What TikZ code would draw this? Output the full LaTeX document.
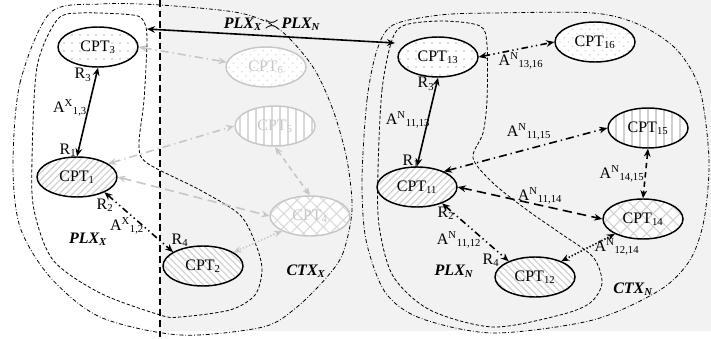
\documentclass[tikz,border=0pt]{standalone}
\usepackage{fontspec}
\setmainfont{Liberation Serif}
\usetikzlibrary{shapes.geometric,patterns,patterns.meta,arrows.meta}

\newlength{\du}
\setlength{\du}{0.75pt}

\definecolor{panelcolor}{rgb}{0.950000, 0.950000, 0.950000}
\definecolor{fadecolor}{rgb}{0.780000, 0.780000, 0.780000}
\definecolor{hatchcolor}{rgb}{0.820000, 0.820000, 0.820000}
\definecolor{paledcolor}{rgb}{0.850000, 0.850000, 0.850000}

\tikzset{
  cpt/.style={ellipse, draw, line width=1.1pt, minimum width=80\du, minimum height=40\du,
    inner sep=0pt, preaction={fill=white}, font=\fontsize{12}{14}\selectfont},
  faded/.style={draw=fadecolor, text=fadecolor},
  plxline/.style={line width=0.6pt, dash pattern=on 2.5pt off 1.5pt},
  ctxline/.style={line width=0.6pt, dash pattern=on 3pt off 1.5pt on 0.6pt off 1.5pt},
  link/.style={line width=1.2pt, {Stealth[length=6pt,width=5pt]}-{Stealth[length=6pt,width=5pt]}},
  fadedlink/.style={link, draw=fadecolor},
  dashdotdot/.style={dash pattern=on 5pt off 2.5pt on 1pt off 2.5pt on 1pt off 2.5pt},
  lbl/.style={font=\fontsize{12}{14}\selectfont, inner sep=0pt},
  area/.style={font=\fontsize{12}{14}\selectfont\bfseries\itshape, inner sep=0pt},
  dotfill/.style={pattern={Dots[distance=6pt,radius=0.8pt]}, pattern color=#1},
  slashfill/.style={pattern={Lines[angle=45,distance=3.5pt,line width=0.9pt]}, pattern color=#1},
  backfill/.style={pattern={Lines[angle=-45,distance=3.5pt,line width=0.9pt]}, pattern color=#1},
  vlinefill/.style={pattern={Lines[angle=90,distance=6pt,line width=1.5pt]}, pattern color=#1},
  crossfill/.style={pattern={Hatch[angle=45,distance=7pt,line width=0.8pt]}, pattern color=#1},
  chevfill/.style={pattern={Dots[distance=4.5pt,radius=0.7pt,angle=45]}, pattern color=#1},
}

\begin{document}
\begin{tikzpicture}
\pgftransformxscale{1.000000}
\pgftransformyscale{-1.000000}
\useasboundingbox (0\du,0\du) rectangle (711\du,339\du);
% panel
\fill[panelcolor] (160\du,0\du) rectangle (711\du,331\du);
\draw[line width=1.1pt, dash pattern=on 5pt off 3pt] (160\du,0\du) -- (160\du,339\du);
% contexts and plexes
\draw[ctxline] plot[smooth cycle] coordinates {(13\du,165\du) (20\du,83\du) (50\du,13\du) (100\du,4\du) (160\du,5\du) (240\du,13\du) (280\du,30\du) (313\du,67\du) (333\du,110\du) (347\du,160\du) (352\du,210\du) (343\du,253\du) (327\du,277\du) (297\du,307\du) (263\du,327\du) (180\du,335\du) (100\du,317\du) (50\du,277\du) (20\du,227\du)};
\draw[plxline] plot[smooth cycle] coordinates {(32\du,160\du) (37\du,67\du) (57\du,20\du) (80\du,13\du) (133\du,15\du) (144\du,22\du) (147\du,40\du) (144\du,100\du) (139\du,145\du) (147\du,163\du) (200\du,190\du) (240\du,215\du) (256\du,245\du) (262\du,270\du) (255\du,295\du) (230\du,310\du) (180\du,317\du) (160\du,315\du) (100\du,293\du) (53\du,260\du) (34\du,210\du)};
\draw[ctxline] plot[smooth cycle] coordinates {(362\du,180\du) (367\du,100\du) (377\du,50\du) (393\du,25\du) (440\du,15\du) (493\du,13\du) (593\du,13\du) (640\du,25\du) (677\du,50\du) (700\du,90\du) (709\du,160\du) (704\du,220\du) (690\du,260\du) (660\du,290\du) (593\du,320\du) (493\du,333\du) (420\du,318\du) (385\du,292\du) (366\du,240\du)};
\draw[plxline] plot[smooth cycle] coordinates {(378\du,170\du) (382\du,90\du) (392\du,40\du) (405\du,25\du) (443\du,21\du) (480\du,26\du) (487\du,45\du) (487\du,100\du) (483\du,133\du) (473\du,158\du) (493\du,183\du) (527\du,210\du) (560\du,233\du) (593\du,257\du) (602\du,283\du) (590\du,303\du) (560\du,315\du) (493\du,327\du) (430\du,310\du) (393\du,276\du) (379\du,225\du)};
% components
\node[cpt, dotfill=hatchcolor] (cpt3) at (98\du,47\du) {CPT\textsubscript{3}};
\node[cpt, slashfill=hatchcolor] (cpt1) at (77\du,177\du) {CPT\textsubscript{1}};
\node[cpt, backfill=hatchcolor] (cpt2) at (203\du,266\du) {CPT\textsubscript{2}};
\node[cpt, faded, chevfill=paledcolor] (cpt6) at (266\du,67\du) {CPT\textsubscript{6}};
\node[cpt, faded, vlinefill=paledcolor] (cpt5) at (275\du,126\du) {CPT\textsubscript{5}};
\node[cpt, faded, crossfill=paledcolor] (cpt4) at (310\du,216\du) {CPT\textsubscript{4}};
\node[cpt, dotfill=hatchcolor] (cpt13) at (438\du,57\du) {CPT\textsubscript{13}};
\node[cpt, chevfill=hatchcolor] (cpt16) at (595\du,42\du) {CPT\textsubscript{16}};
\node[cpt, vlinefill=hatchcolor] (cpt15) at (648\du,128\du) {CPT\textsubscript{15}};
\node[cpt, slashfill=hatchcolor] (cpt11) at (417\du,187\du) {CPT\textsubscript{11}};
\node[cpt, crossfill=hatchcolor] (cpt14) at (643\du,219\du) {CPT\textsubscript{14}};
\node[cpt, backfill=hatchcolor] (cpt12) at (535\du,277\du) {CPT\textsubscript{12}};
% faded links
\draw[fadedlink, dash pattern=on 6pt off 3pt on 1pt off 3pt] (cpt3.east) -- (cpt6.173);
\draw[fadedlink, dash pattern=on 6pt off 3pt on 1pt off 3pt] (cpt1.23) -- (cpt5.west);
\draw[fadedlink, dash pattern=on 7pt off 4pt] (cpt1.east) -- (cpt4.west);
\draw[fadedlink, dash pattern=on 4pt off 3pt] (cpt5.south) -- (cpt4.north);
\draw[fadedlink, dash pattern=on 1pt off 1.5pt] (cpt4.208) -- (cpt2.24);
% links
\coordinate (plxxend) at (147\du,29\du);
\coordinate (plxnend) at (395\du,43\du);
\draw[link] (plxxend) -- (plxnend);
\draw[link] (cpt3.south) -- (cpt1.north);
\draw[link, dashdotdot] (cpt1.-29) -- (cpt2.155);
\draw[link] (cpt13.south) -- (cpt11.north);
\draw[link, dashdotdot] (cpt13.east) -- (cpt16.west);
\draw[link, dash pattern=on 6pt off 3pt on 1pt off 3pt] (cpt11.30) -- (cpt15.west);
\draw[link, dash pattern=on 7pt off 4pt] (cpt11.east) -- (cpt14.west);
\draw[link, dash pattern=on 4pt off 3pt] (cpt15.south) -- (cpt14.north);
\draw[link, dashdotdot] (cpt11.-33) -- (cpt12.149);
\draw[link, dash pattern=on 1pt off 1.5pt] (cpt12.31) -- (cpt14.208);
% roles and associations
\node[lbl] (r3x) at (83\du,75\du) {R\textsubscript{3}};
\node[lbl] (r1x) at (68\du,150\du) {R\textsubscript{1}};
\node[lbl] (r2x) at (105\du,205\du) {R\textsubscript{2}};
\node[lbl] (r4x) at (180\du,240\du) {R\textsubscript{4}};
\node[lbl] (a13x) at (70\du,108\du) {A\textsuperscript{X}\textsubscript{1,3}};
\node[lbl] (a12x) at (127\du,226\du) {A\textsuperscript{X}\textsubscript{1,2}};
\node[lbl] (r3n) at (426\du,84\du) {R\textsubscript{3}};
\node[lbl] (r1n) at (411\du,161\du) {R\textsubscript{1}};
\node[lbl] (r2n) at (446\du,213\du) {R\textsubscript{2}};
\node[lbl] (r4n) at (491\du,260\du) {R\textsubscript{4}};
\node[lbl] (a1316n) at (521\du,61\du) {A\textsuperscript{N}\textsubscript{13,16}};
\node[lbl] (a1113n) at (408\du,120\du) {A\textsuperscript{N}\textsubscript{11,13}};
\node[lbl] (a1115n) at (529\du,132\du) {A\textsuperscript{N}\textsubscript{11,15}};
\node[lbl] (a1415n) at (622\du,174\du) {A\textsuperscript{N}\textsubscript{14,15}};
\node[lbl] (a1114n) at (540\du,196\du) {A\textsuperscript{N}\textsubscript{11,14}};
\node[lbl] (a1112n) at (459\du,240\du) {A\textsuperscript{N}\textsubscript{11,12}};
\node[lbl] (a1214n) at (617\du,247\du) {A\textsuperscript{N}\textsubscript{12,14}};
% area names
\node[area] (plxxname) at (88\du,239\du) {PLX\textsubscript{X}};
\node[area] (ctxxname) at (306\du,271\du) {CTX\textsubscript{X}};
\node[area] (plxnname) at (454\du,271\du) {PLX\textsubscript{N}};
\node[area] (ctxnname) at (633\du,289\du) {CTX\textsubscript{N}};
\node[area] (matchname) at (272\du,24\du) {PLX\textsubscript{X}\,{\boldmath$\asymp$}\,PLX\textsubscript{N}};
\end{tikzpicture}
\end{document}
